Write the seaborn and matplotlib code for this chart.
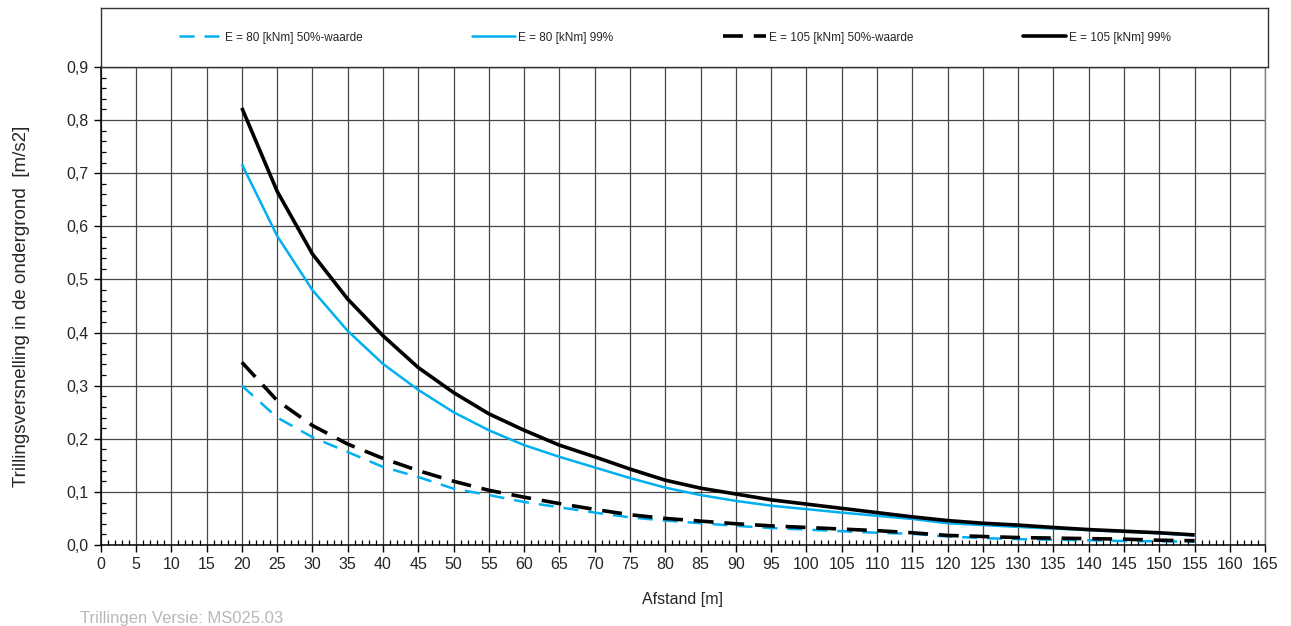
import numpy as np
import pandas as pd
import matplotlib
matplotlib.use("Agg")
import matplotlib.pyplot as plt
import seaborn as sns
from matplotlib.ticker import MultipleLocator, FixedLocator, FixedFormatter
from matplotlib.lines import Line2D

# ---------------- data ----------------
afstand = [20, 25, 30, 35, 40, 45, 50, 55, 60, 65, 70, 75, 80, 85, 90, 95,
           100, 105, 110, 115, 120, 125, 130, 135, 140, 145, 150, 155]
e80_50 = [0.300, 0.240, 0.203, 0.175, 0.147, 0.128, 0.106, 0.094, 0.081, 0.071,
          0.061, 0.052, 0.046, 0.041, 0.036, 0.032, 0.029, 0.026, 0.023, 0.021,
          0.016, 0.013, 0.011, 0.010, 0.009, 0.0075, 0.007, 0.006]
e80_99 = [0.717, 0.582, 0.480, 0.403, 0.341, 0.292, 0.250, 0.216, 0.188, 0.166,
          0.146, 0.126, 0.108, 0.094, 0.083, 0.074, 0.0675, 0.061, 0.055, 0.049,
          0.041, 0.0375, 0.034, 0.031, 0.028, 0.025, 0.022, 0.018]
e105_50 = [0.344, 0.272, 0.225, 0.190, 0.163, 0.140, 0.120, 0.103, 0.090, 0.078,
           0.067, 0.057, 0.050, 0.045, 0.040, 0.036, 0.033, 0.030, 0.027, 0.023,
           0.018, 0.016, 0.014, 0.013, 0.012, 0.011, 0.009, 0.008]
e105_99 = [0.823, 0.666, 0.548, 0.463, 0.394, 0.334, 0.287, 0.247, 0.216, 0.188,
           0.166, 0.143, 0.122, 0.107, 0.096, 0.085, 0.077, 0.069, 0.061, 0.053,
           0.046, 0.041, 0.0375, 0.033, 0.029, 0.026, 0.023, 0.019]

series_names = ["E = 80 [kNm] 50%-waarde", "E = 80 [kNm] 99%",
                "E = 105 [kNm] 50%-waarde", "E = 105 [kNm] 99%"]
series_values = [e80_50, e80_99, e105_50, e105_99]

x_ticks = list(range(0, 170, 5))
x_ticklabels = [str(v) for v in x_ticks]
y_ticks = [0.0, 0.1, 0.2, 0.3, 0.4, 0.5, 0.6, 0.7, 0.8, 0.9]
y_ticklabels = ["0,0", "0,1", "0,2", "0,3", "0,4", "0,5", "0,6", "0,7", "0,8", "0,9"]

x_label = "Afstand [m]"
y_label = "Trillingsversnelling in de ondergrond  [m/s2]"
footer = "Trillingen Versie: MS025.03"

# ---------------- style ----------------
sns.set_style("white")
plt.rcParams["font.family"] = ["Liberation Sans", "DejaVu Sans"]

BLUE = "#00B0F0"
styles = [
    dict(color=BLUE, lw=1.8, dashes=(6, 4)),
    dict(color=BLUE, lw=1.8, dashes=None),
    dict(color="black", lw=2.6, dashes=(5.5, 3)),
    dict(color="black", lw=2.6, dashes=None),
]

fig = plt.figure(figsize=(12.91, 6.26), dpi=100)
ax = fig.add_axes([0.078, 0.1294, 0.902, 0.7636])

df = pd.DataFrame({"afstand": afstand})
for name, vals in zip(series_names, series_values):
    df[name] = vals

handles = []
for name, st in zip(series_names, styles):
    sns.lineplot(data=df, x="afstand", y=name, ax=ax, color=st["color"],
                 linewidth=st["lw"], legend=False)
    line = ax.get_lines()[-1]
    if st["dashes"] is not None:
        line.set_dashes(st["dashes"])
    line.set_solid_capstyle("butt")
    line.set_dash_capstyle("butt")
    h = Line2D([0], [0], color=st["color"], lw=st["lw"])
    if st["dashes"] is not None:
        h.set_dashes(st["dashes"])
    handles.append(h)

ax.set_xlim(0, 165)
ax.set_ylim(0, 0.9)
ax.xaxis.set_major_locator(FixedLocator(x_ticks))
ax.xaxis.set_major_formatter(FixedFormatter(x_ticklabels))
ax.yaxis.set_major_locator(FixedLocator(y_ticks))
ax.yaxis.set_major_formatter(FixedFormatter(y_ticklabels))
ax.xaxis.set_minor_locator(MultipleLocator(1))
ax.yaxis.set_minor_locator(MultipleLocator(0.02))

ax.grid(True, which="major", color="#474747", linewidth=0.9)
ax.set_axisbelow(True)

ax.tick_params(axis="both", which="major", direction="out", length=5, width=1,
               color="black", labelsize=11.5, pad=4, bottom=True, left=True)
ax.tick_params(axis="both", which="minor", direction="in", length=3.5, width=0.9,
               color="black", bottom=True, left=True)

for s in ["left", "bottom"]:
    ax.spines[s].set_color("black")
    ax.spines[s].set_linewidth(1.1)
for s in ["top", "right"]:
    ax.spines[s].set_color("#808080")
    ax.spines[s].set_linewidth(1.0)

ax.set_xlabel(x_label, fontsize=11.5, labelpad=14)
ax.set_ylabel(y_label, fontsize=13.5)
ax.yaxis.set_label_coords(-0.061, 0.5)

# legend box on top
lax = fig.add_axes([0.078, 0.893, 0.904, 0.094])
lax.set_xticks([])
lax.set_yticks([])
for s in lax.spines.values():
    s.set_color("#333333")
    s.set_linewidth(1.0)
lax.set_facecolor("white")
lax.legend(handles, series_names, loc="center", ncol=4, frameon=False,
           fontsize=8.5, handlelength=3.6, handletextpad=0.3,
           columnspacing=9.3, bbox_to_anchor=(0.492, 0.5))

fig.text(80 / 1291, 1 - 619 / 626, footer, fontsize=12, color="#B8B8B8",
         ha="left", va="center")

fig.savefig("out.png", dpi=100, facecolor="white")
